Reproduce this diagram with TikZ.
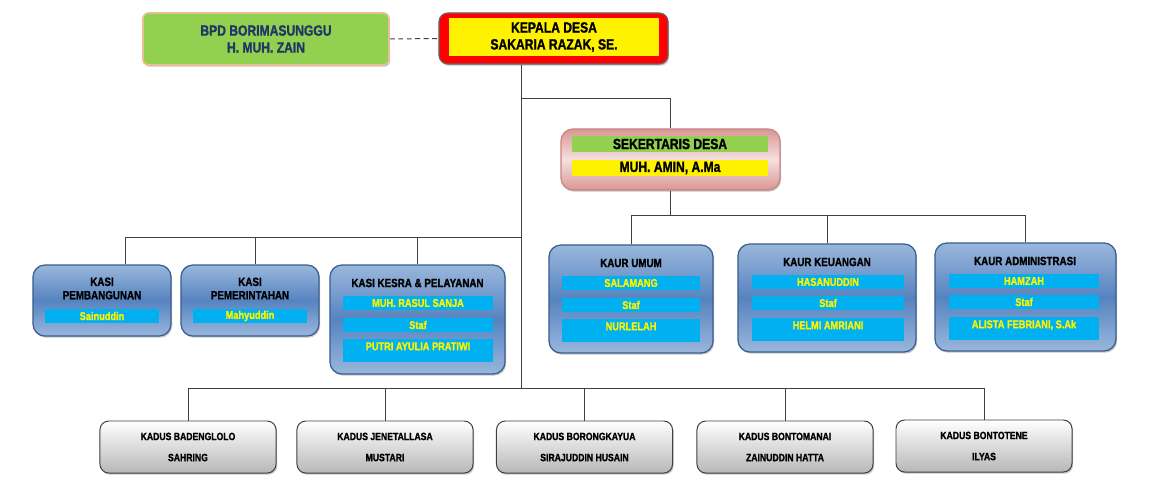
\documentclass[tikz,border=0pt]{standalone}
\usepackage{fontspec}
\setmainfont{Liberation Sans}[FakeStretch=0.84, BoldFont={Liberation Sans Bold}, BoldFeatures={FakeStretch=0.82, FakeBold=1.3}]
\usetikzlibrary{positioning,shadows}
\definecolor{hijau}{HTML}{92D050}
\definecolor{tepicoklat}{HTML}{E8BE96}
\definecolor{navy}{HTML}{1F3864}
\definecolor{biruA}{HTML}{9AB7DC}
\definecolor{biruB}{HTML}{5683C0}
\definecolor{birutepi}{HTML}{3A5F8F}
\definecolor{cyanbar}{HTML}{00B0F0}
\definecolor{merahmuda}{HTML}{D99694}
\definecolor{pinkmuda}{HTML}{F4E0DF}
\definecolor{pinktepi}{HTML}{C98683}

\begin{document}
\begin{tikzpicture}[x=0.025cm, y=-0.025cm,
    garis/.style={draw=black!75, line width=0.7pt},
    bayang/.style={drop shadow={shadow xshift=0.8pt, shadow yshift=-1.2pt, opacity=0.45}},
    kotak/.style={draw=birutepi, line width=0.9pt, rounded corners=0.3cm, top color=biruA, bottom color=biruA, middle color=biruB, bayang},
    judul/.style={font=\fontsize{8.5}{9.5}\selectfont\bfseries, align=center, text=black, inner sep=0pt},
    isian/.style={fill=cyanbar, text=yellow, font=\fontsize{8}{9}\selectfont\bfseries, inner sep=0pt, minimum height=0.35cm},
    isiantinggi/.style={isian, text height=8pt, text depth=8.4pt, minimum height=0.575cm},
    dusun/.style={draw=black!75, line width=0.7pt, rounded corners=0.22cm, top color=white, bottom color=black!28, minimum width=4.4cm, minimum height=1.3cm, align=center, font=\fontsize{7.5}{15}\selectfont\bfseries, bayang}
  ]
  \useasboundingbox (0,0) rectangle (1168,493);

  % pimpinan
  \node[draw=tepicoklat, line width=1.2pt, fill=hijau, rounded corners=0.15cm, minimum width=6.15cm, minimum height=1.3cm, align=center, text=navy, font=\fontsize{10.5}{12}\selectfont\bfseries, bayang] (bpd) at (266,39) {BPD BORIMASUNGGU\\H. MUH. ZAIN};
  \node[draw=black!60, line width=0.8pt, fill=red, rounded corners=0.22cm, minimum width=5.725cm, minimum height=1.275cm, bayang] (kades) at (553.5,38.5) {};
  \node[fill=yellow, minimum width=5.25cm, minimum height=0.9cm, align=center, font=\fontsize{10.5}{12}\selectfont\bfseries] (kadesisi) at (554,37) {KEPALA DESA\\SAKARIA RAZAK, SE.};
  \draw[garis, dash pattern=on 3.5pt off 2.5pt] (bpd.east) -- (kades.west);

  % sekretaris
  \node[draw=pinktepi, line width=0.9pt, rounded corners=0.3cm, top color=merahmuda, bottom color=merahmuda, middle color=pinkmuda, minimum width=5.475cm, minimum height=1.525cm, bayang] (sek) at (670.5,159.5) {};
  \node[fill=hijau, minimum width=4.9cm, minimum height=0.4cm, inner sep=0pt, font=\fontsize{10.5}{12}\selectfont\bfseries] (sekjudul) at (670,144) {SEKERTARIS DESA};
  \node[fill=yellow, minimum width=4.9cm, minimum height=0.4cm, inner sep=0pt, font=\fontsize{10.5}{12}\selectfont\bfseries] (seknama) at (670,168) {MUH. AMIN, A.Ma};

  % kasi
  \node[kotak, minimum width=3.45cm, minimum height=1.775cm] (pemb) at (102,300.5) {};
  \node[judul] (pembjudul) at (102,288.5) {KASI\\PEMBANGUNAN};
  \node[isian, minimum width=2.85cm] (pembnama) at (102,316) {Sainuddin};

  \node[kotak, minimum width=3.45cm, minimum height=1.775cm] (pemer) at (250,300.5) {};
  \node[judul] (pemerjudul) at (250,288.5) {KASI\\PEMERINTAHAN};
  \node[isian, minimum width=2.85cm] (pemernama) at (250,316) {Mahyuddin};

  \node[kotak, minimum width=4.375cm, minimum height=2.725cm] (kesra) at (417.5,319.5) {};
  \node[judul] (kesrajudul) at (417.5,283) {KASI KESRA \& PELAYANAN};
  \node[isian, minimum width=3.75cm] (kesranama) at (418,303) {MUH. RASUL SANJA};
  \node[isian, minimum width=3.75cm] (kesrastaf) at (418,325) {Staf};
  \node[isiantinggi, minimum width=3.75cm] (kesrastafnama) at (418,350.5) {PUTRI AYULIA PRATIWI};

  % kaur
  \node[kotak, minimum width=4.1cm, minimum height=2.7cm] (umum) at (631,299) {};
  \node[judul] (umumjudul) at (631,263) {KAUR UMUM};
  \node[isian, minimum width=3.425cm] (umumnama) at (631,283) {SALAMANG};
  \node[isian, minimum width=3.425cm] (umumstaf) at (631,305) {Staf};
  \node[isiantinggi, minimum width=3.425cm] (umumstafnama) at (631,330.5) {NURLELAH};

  \node[kotak, minimum width=4.45cm, minimum height=2.7cm] (keu) at (827,298) {};
  \node[judul] (keujudul) at (827,262) {KAUR KEUANGAN};
  \node[isian, minimum width=3.8cm] (keunama) at (828,282) {HASANUDDIN};
  \node[isian, minimum width=3.8cm] (keustaf) at (828,303) {Staf};
  \node[isiantinggi, minimum width=3.8cm] (keustafnama) at (828,329.5) {HELMI AMRIANI};

  \node[kotak, minimum width=4.525cm, minimum height=2.7cm] (adm) at (1025.5,297) {};
  \node[judul] (admjudul) at (1025,261) {KAUR ADMINISTRASI};
  \node[isian, minimum width=3.75cm] (admnama) at (1024,281) {HAMZAH};
  \node[isian, minimum width=3.75cm] (admstaf) at (1024,302) {Staf};
  \node[isiantinggi, minimum width=3.75cm] (admstafnama) at (1024,328.5) {ALISTA FEBRIANI, S.Ak};

  % kepala dusun
  \node[dusun] (kd1) at (188,447) {KADUS BADENGLOLO\\SAHRING};
  \node[dusun] (kd2) at (385,447) {KADUS JENETALLASA\\MUSTARI};
  \node[dusun] (kd3) at (584.5,447) {KADUS BORONGKAYUA\\SIRAJUDDIN HUSAIN};
  \node[dusun] (kd4) at (785,447) {KADUS BONTOMANAI\\ZAINUDDIN HATTA};
  \node[dusun] (kd5) at (984,446) {KADUS BONTOTENE\\ILYAS};

  % garis
  \coordinate (t1) at (521,98);
  \coordinate (t2) at (521,237);
  \coordinate (t3) at (521,388);
  \coordinate (c1) at (125,237);
  \coordinate (c2) at (255,237);
  \coordinate (s1) at (669,215);
  \draw[garis] (kades.south -| t1) -- (t3);
  \draw[garis] (t1) -| (sek.north);
  \draw[garis] (sek.south) -- (sek.south |- s1);
  \draw[garis] (umum.north) |- (adm.north |- s1) -- (adm.north);
  \draw[garis] (keu.north) -- (keu.north |- s1);
  \draw[garis] (t2) -- (c1) -- (c1 |- pemb.north);
  \draw[garis] (c2) -- (c2 |- pemer.north);
  \draw[garis] (kesra.north |- t2) -- (kesra.north);
  \draw[garis] (kd1.north) |- (kd5.north |- t3) -- (kd5.north);
  \foreach \k in {kd2,kd3,kd4}
    \draw[garis] (\k.north) -- (\k.north |- t3);
\end{tikzpicture}
\end{document}
